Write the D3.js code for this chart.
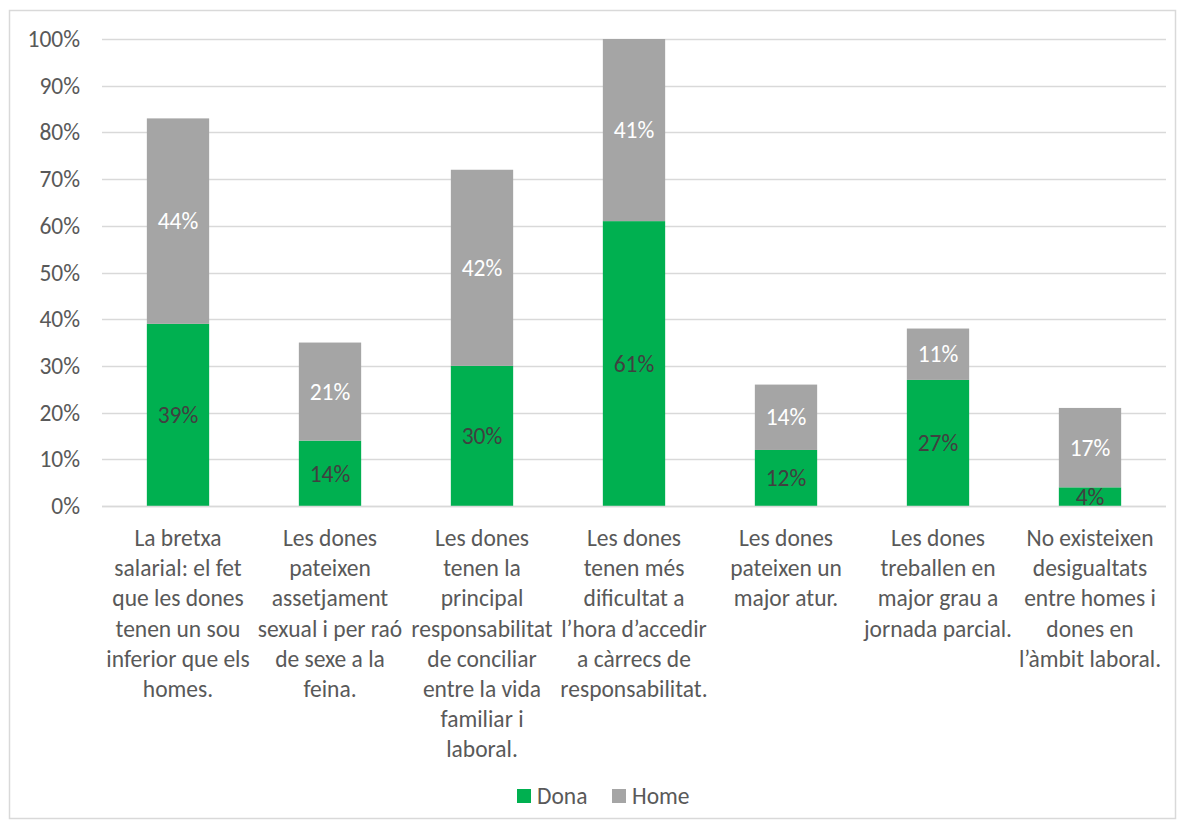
<!DOCTYPE html>
<html><head><meta charset="utf-8">
<script src="https://cdn.jsdelivr.net/npm/d3@7"></script>
<style>body{margin:0;background:#fff}svg{display:block}text{font-family:Carlito,Calibri,Lato,"Open Sans",sans-serif}</style>
</head><body><svg id="c" width="1183" height="827"></svg>
<script>
const categories = [
 "La bretxa\nsalarial: el fet\nque les dones\ntenen un sou\ninferior que els\nhomes.",
 "Les dones\npateixen\nassetjament\nsexual i per raó\nde sexe a la\nfeina.",
 "Les dones\ntenen la\nprincipal\nresponsabilitat\nde conciliar\nentre la vida\nfamiliar i\nlaboral.",
 "Les dones\ntenen més\ndificultat a\nl’hora d’accedir\na càrrecs de\nresponsabilitat.",
 "Les dones\npateixen un\nmajor atur.",
 "Les dones\ntreballen en\nmajor grau a\njornada parcial.",
 "No existeixen\ndesigualtats\nentre homes i\ndones en\nl’àmbit laboral."
];
const dona = [39,14,30,61,12,27,4];
const home = [44,21,42,41,14,11,17];
const seriesNames = ["Dona","Home"];
const colors = ["#00B050","#A5A5A5"];
const labelColors = ["#404040","#ffffff"];
const yTicks = [0,10,20,30,40,50,60,70,80,90,100];
const FS = "23.5px";

const svg = d3.select("#c");
svg.append("rect").attr("x",9.5).attr("y",10.5).attr("width",1166).attr("height",808)
  .attr("fill","#fff").attr("stroke","#d9d9d9").attr("stroke-width",1.5);

const x = d3.scaleBand().domain(d3.range(categories.length)).range([102,1166]).paddingInner(0.59).paddingOuter(0.295);
const y = d3.scaleLinear().domain([0,100]).range([506,39]);

const defs = svg.append("defs");
defs.append("clipPath").attr("id","pc").append("rect").attr("x",0).attr("y",y(100)).attr("width",1183).attr("height",y(0)-y(100));

// grid
svg.append("g").selectAll("line").data(yTicks).join("line")
  .attr("x1",102).attr("x2",1166).attr("y1",d=>Math.round(y(d))+0.5).attr("y2",d=>Math.round(y(d))+0.5)
  .attr("stroke","#d9d9d9").attr("stroke-width",1.5);

// y axis labels via d3 axis
const yAxis = svg.append("g").attr("transform","translate(102,0)")
  .call(d3.axisLeft(y).tickValues(yTicks).tickFormat(d=>d+"%").tickSize(0).tickPadding(22));
yAxis.select(".domain").remove();
yAxis.selectAll("text").attr("fill","#595959").style("font-size",FS).style("font-family","Carlito,Calibri,Lato,sans-serif");

const stacked = d3.stack().keys([0,1]).value((d,k)=>d[k])(dona.map((d,i)=>[d,home[i]]));
const g = svg.append("g").attr("clip-path","url(#pc)");
stacked.forEach((s,si)=>{
  g.append("g").selectAll("rect").data(s).join("rect")
   .attr("x",(d,i)=>x(i)).attr("width",x.bandwidth())
   .attr("y",d=>y(Math.min(100,d[1]))).attr("height",d=>y(d[0])-y(Math.min(100,d[1])))
   .attr("fill",colors[si]);
});
stacked.forEach((s,si)=>{
  g.append("g").selectAll("text").data(s).join("text")
   .attr("x",(d,i)=>x(i)+x.bandwidth()/2)
   .attr("y",d=>(y(d[0])+y(Math.min(100,d[1])))/2)
   .attr("dy","0.35em").attr("text-anchor","middle")
   .attr("fill",labelColors[si]).style("font-size",FS)
   .text(d=>(d[1]-d[0])+"%");
});
// baseline
svg.append("line").attr("x1",102).attr("x2",1166).attr("y1",Math.round(y(0))+0.5).attr("y2",Math.round(y(0))+0.5)
  .attr("stroke","#d9d9d9").attr("stroke-width",1.5);

// category labels
const cl = svg.append("g");
categories.forEach((c,i)=>{
  const t = cl.append("text").attr("text-anchor","middle").attr("fill","#595959").style("font-size",FS);
  c.split("\n").forEach((ln,j)=>{
    t.append("tspan").attr("x",x(i)+x.bandwidth()/2).attr("y",546+j*30.2).text(ln);
  });
});

// legend
const lg = svg.append("g");
const legX = [517,612];
seriesNames.forEach((n,i)=>{
  lg.append("rect").attr("x",legX[i]).attr("y",789).attr("width",14).attr("height",14).attr("fill",colors[i]);
  lg.append("text").attr("x",legX[i]+20).attr("y",796).attr("dy","0.35em").attr("fill","#595959").style("font-size",FS).text(n);
});
</script></body></html>
